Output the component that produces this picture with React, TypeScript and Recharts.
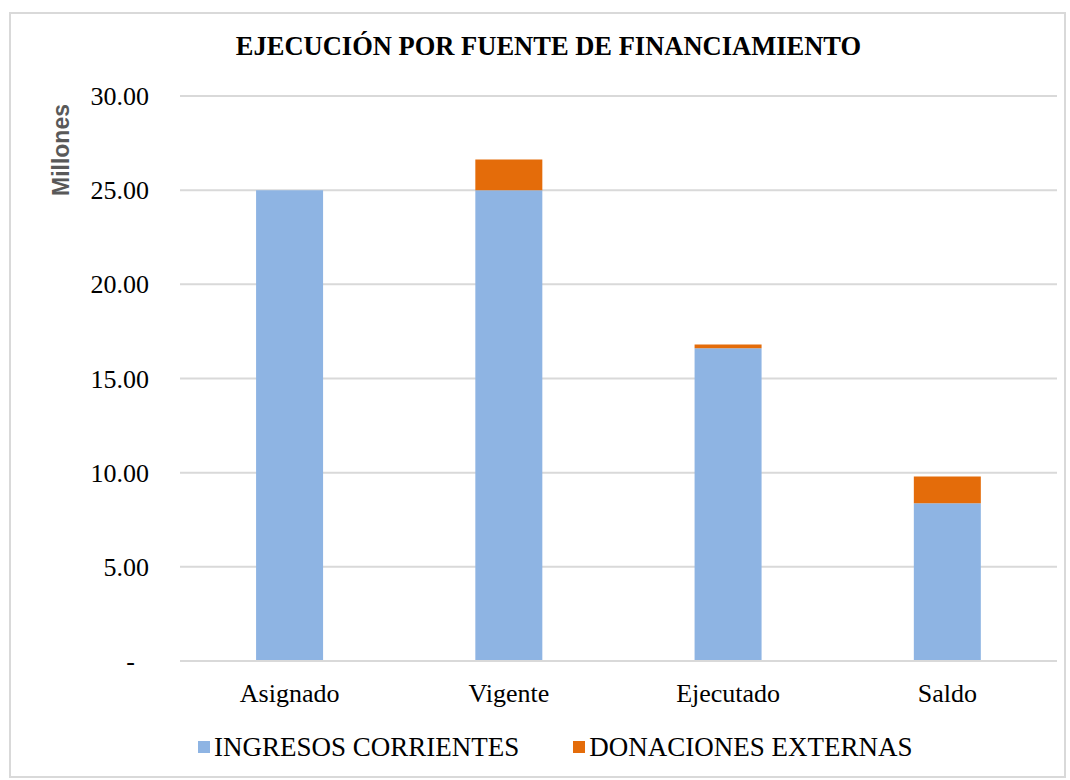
import { BarChart, Bar, XAxis, YAxis, CartesianGrid } from "recharts"

const categories = ["Asignado", "Vigente", "Ejecutado", "Saldo"]
const ingresosCorrientes = [25.0, 25.0, 16.6, 8.37]
const donacionesExternas = [0, 1.63, 0.21, 1.43]
const seriesNames = ["INGRESOS CORRIENTES", "DONACIONES EXTERNAS"]
const seriesColors = ["#8EB4E3", "#E46C0A"]
const yTicks = [0, 5, 10, 15, 20, 25, 30]

const SERIF = "'Liberation Serif', 'Times New Roman', serif"
const SANS = "'Liberation Sans', Arial, sans-serif"

const data = categories.map((name, i) => ({
  name,
  ingresos: ingresosCorrientes[i],
  donaciones: donacionesExternas[i],
}))

function YTick(props: any) {
  const { y, payload } = props
  const v = payload.value as number
  const zero = v === 0
  return (
    <text
      x={zero ? 135 : 149}
      y={y}
      dy="0.35em"
      textAnchor="end"
      fontFamily={SERIF}
      fontSize={26}
      fill="#000"
    >
      {zero ? "-" : v.toFixed(2)}
    </text>
  )
}

function XTick(props: any) {
  const { x, payload } = props
  return (
    <text x={x} y={702} textAnchor="middle" fontFamily={SERIF} fontSize={26} fill="#000">
      {payload.value}
    </text>
  )
}

export default function App() {
  return (
    <div style={{ position: "absolute", left: 0, top: 0, width: 1070, height: 780, background: "#fff" }}>
      <div
        style={{
          position: "absolute",
          left: 9,
          top: 12,
          width: 1057,
          height: 766,
          border: "2px solid #D9D9D9",
          boxSizing: "border-box",
        }}
      />
      <div
        style={{
          position: "absolute",
          left: 0,
          top: 33,
          width: 1097,
          textAlign: "center",
          fontFamily: SERIF,
          fontWeight: "bold",
          fontSize: 26.5,
          lineHeight: "26px",
          color: "#000",
        }}
      >
        EJECUCIÓN POR FUENTE DE FINANCIAMIENTO
      </div>
      <div
        style={{
          position: "absolute",
          left: 61,
          top: 150,
          transform: "translate(-50%, -50%) rotate(-90deg)",
          fontFamily: SANS,
          fontWeight: "bold",
          fontSize: 23,
          color: "#595959",
          whiteSpace: "nowrap",
        }}
      >
        Millones
      </div>
      <div style={{ position: "absolute", left: 0, top: 0 }}>
        <BarChart
          width={1070}
          height={780}
          data={data}
          margin={{ top: 96, right: 13, bottom: 0, left: 0 }}
          barCategoryGap="34.7%"
        >
          <CartesianGrid vertical={false} stroke="#D9D9D9" strokeWidth={2} />
          <XAxis
            dataKey="name"
            height={119}
            tickLine={false}
            axisLine={{ stroke: "#D9D9D9", strokeWidth: 2 }}
            tick={<XTick />}
            interval={0}
          />
          <YAxis
            width={180}
            domain={[0, 30]}
            ticks={yTicks}
            axisLine={false}
            tickLine={false}
            tick={<YTick />}
            interval={0}
          />
          <Bar dataKey="ingresos" stackId="a" fill={seriesColors[0]} isAnimationActive={false} />
          <Bar dataKey="donaciones" stackId="a" fill={seriesColors[1]} isAnimationActive={false} />
        </BarChart>
      </div>
      <div
        style={{
          position: "absolute",
          left: 198,
          top: 733,
          display: "flex",
          alignItems: "center",
          gap: 54,
          fontFamily: SERIF,
          fontSize: 27,
          lineHeight: "28px",
          color: "#000",
          whiteSpace: "nowrap",
        }}
      >
        {seriesNames.map((n, i) => (
          <div key={n} style={{ display: "flex", alignItems: "center" }}>
            <span style={{ width: 12, height: 12, background: seriesColors[i], marginRight: 4, display: "inline-block" }} />
            <span>{n}</span>
          </div>
        ))}
      </div>
    </div>
  )
}
